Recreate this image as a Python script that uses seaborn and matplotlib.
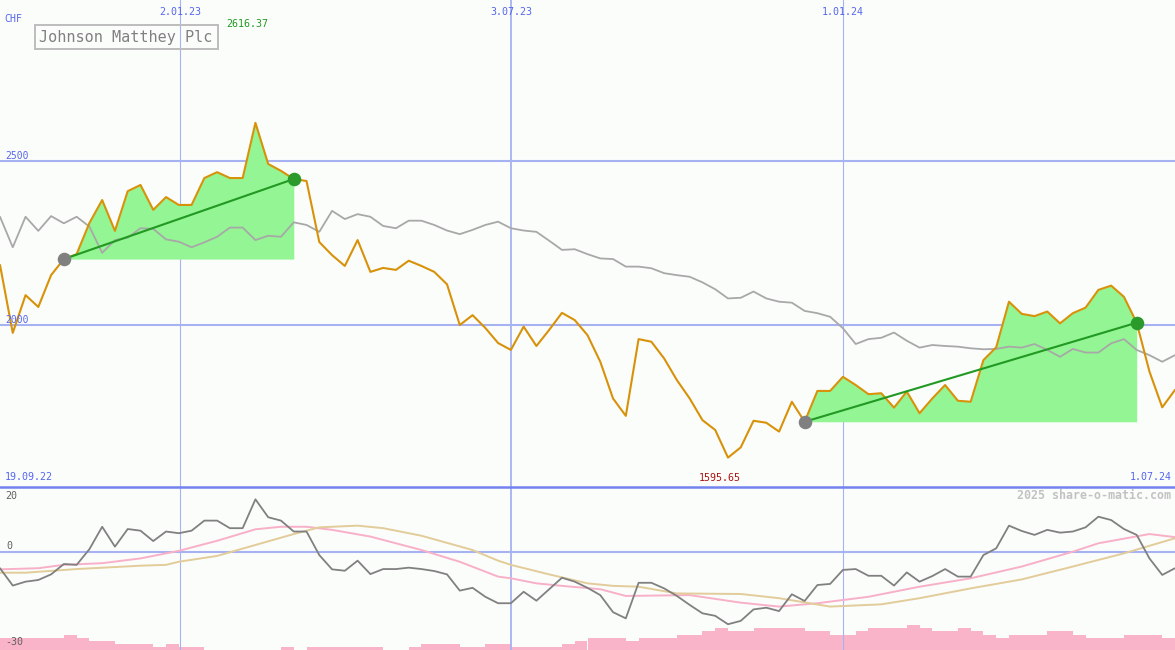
import matplotlib
matplotlib.use("Agg")
import matplotlib.pyplot as plt
import numpy as np
import pandas as pd
import seaborn as sns

# weekly closes (CHF), 19.09.22 .. 1.07.24
price = [
    2183, 1976, 2091, 2055, 2152, 2201, 2216, 2311, 2381, 2287,
    2408, 2427, 2351, 2390, 2366, 2366, 2448, 2466, 2448, 2448,
    2616.37, 2491, 2470, 2445, 2439, 2253, 2213, 2180, 2259, 2162,
    2174, 2168, 2196, 2180, 2162, 2124, 2000, 2030, 1991, 1945,
    1924, 1995, 1936, 1985, 2037, 2015, 1969, 1888, 1776, 1723,
    1957, 1949, 1898, 1832, 1776, 1710, 1680, 1595.65, 1627, 1708,
    1702, 1675, 1766, 1705, 1799, 1799, 1842, 1817, 1789, 1792,
    1748, 1797, 1731, 1776, 1817, 1769, 1766, 1893, 1932, 2071,
    2034, 2027, 2041, 2005, 2036, 2053, 2107, 2120, 2086, 2007,
    1858, 1749, 1802,
]
benchmark = [
    2330, 2237, 2330, 2287, 2332, 2310, 2330, 2300, 2220, 2259,
    2266, 2295, 2293, 2261, 2254, 2237, 2252, 2269, 2297, 2297,
    2259, 2272, 2269, 2313, 2305, 2284, 2348, 2323, 2338, 2330,
    2302, 2295, 2318, 2318, 2305, 2288, 2277, 2290, 2305, 2315,
    2295, 2288, 2284, 2257, 2229, 2231, 2216, 2203, 2201, 2178,
    2178, 2173, 2158, 2152, 2147, 2130, 2109, 2081, 2083, 2102,
    2081, 2071, 2068, 2043, 2036, 2025, 1990, 1942, 1957, 1961,
    1977, 1952, 1931, 1939, 1936, 1934, 1929, 1926, 1927, 1934,
    1931, 1942, 1924, 1903, 1927, 1916, 1916, 1944, 1957, 1924,
    1908, 1888, 1908,
]
momentum = [
    -5.8, -12.0, -10.6, -10.0, -8.0, -4.3, -4.6, 1.0, 9.0, 1.9,
    8.2, 7.6, 3.9, 7.3, 6.7, 7.6, 11.2, 11.2, 8.5, 8.5,
    18.8, 12.4, 11.2, 7.3, 7.3, -1.1, -6.2, -6.7, -3.1, -7.9,
    -6.1, -6.1, -5.6, -6.1, -6.8, -8.0, -13.8, -12.8, -16.0, -18.3,
    -18.3, -14.2, -17.4, -13.3, -9.2, -10.6, -12.8, -15.4, -21.5, -23.7,
    -11.0, -11.0, -13.0, -15.7, -18.9, -21.9, -22.8, -25.8, -24.6, -20.5,
    -19.9, -21.1, -15.1, -17.5, -11.8, -11.4, -6.4, -6.1, -8.5, -8.5,
    -12.0, -7.3, -10.6, -8.6, -6.1, -8.8, -8.8, -1.1, 1.3, 9.4,
    7.5, 6.1, 7.9, 6.9, 7.3, 8.8, 12.6, 11.4, 8.2, 6.1,
    -2.3, -8.2, -5.8,
]
fast_avg_week = [0, 3, 5, 8, 11, 14, 17, 20, 22, 24, 26, 29, 33, 36, 39, 40, 42, 44, 47,
                 49, 54, 58, 61, 64, 68, 72, 76, 80, 84, 86, 90, 92]
fast_avg = [-6.2, -5.8, -4.6, -4.0, -2.3, 0.4, 4.0, 8.1, 9.0, 9.0, 7.9, 5.5, 0.7, -3.5, -8.8,
            -9.4, -11.2, -12.1, -13.3, -15.7, -15.4, -18.1, -19.5, -18.3, -16.0, -12.4, -9.4,
            -5.2, 0.1, 3.1, 6.4, 5.3]
slow_avg_week = [0, 2, 6, 11, 13, 14, 17, 20, 23, 25, 28, 30, 33, 37, 39, 40, 43, 46, 48,
                 50, 53, 58, 61, 65, 69, 72, 76, 80, 84, 88, 92]
slow_avg = [-7.4, -7.4, -6.1, -4.9, -4.6, -3.5, -1.4, 2.5, 6.4, 8.8, 9.4, 8.5, 5.8, 0.7, -3.1,
            -4.6, -8.0, -11.2, -12.1, -12.4, -14.8, -15.0, -16.5, -19.5, -18.7, -16.5, -13.0,
            -9.8, -5.2, -0.5, 4.9]
volume = [
    4, 4, 4, 4, 4, 5, 4, 3, 3, 2, 2, 2, 1, 2, 1, 1, 0, 0, 0, 0,
    0, 0, 1, 0, 1, 1, 1, 1, 1, 1, 0, 0, 1, 2, 2, 2, 1, 1, 2, 2,
    1, 1, 1, 1, 2, 3, 4, 4, 4, 3, 4, 4, 4, 5, 5, 6, 7, 6, 6, 7,
    7, 7, 7, 6, 6, 5, 5, 6, 7, 7, 7, 8, 7, 6, 6, 7, 6, 5, 4, 5,
    5, 5, 6, 6, 5, 4, 4, 4, 5, 5, 5, 4,
]
date_weeks = [14.1, 40, 66]
date_labels = ["2.01.23", "3.07.23", "1.01.24"]
first_date, last_date = "19.09.22", "1.07.24"
trends = [(5, 23), (63, 89)]
price_levels = [2500, 2000]
osc_labels = ["20", "0", "-30"]

week = np.arange(len(price))
df = pd.DataFrame({"week": week, "price": price, "benchmark": benchmark, "momentum": momentum})

bg = "#fbfdfb"
blue = "#5566ee"
grid = "#a6b2f2"
mono = ["DejaVu Sans Mono"]

sns.set_style("white")
plt.rcParams["font.family"] = mono

fig = plt.figure(figsize=(11.75, 6.5), dpi=100, facecolor=bg)
split = 163 / 650
ax = fig.add_axes([0, split, 1, 1 - split], facecolor=bg)
ax_vol = fig.add_axes([0, 0, 1, split], facecolor=bg)
ax_osc = fig.add_axes([0, 0, 1, split], facecolor="none")

# upper panel
for a, b in trends:
    ax.fill_between(week[a:b + 1], price[a:b + 1], price[a], color="#93f593", lw=0, zorder=1)
sns.lineplot(data=df, x="week", y="benchmark", ax=ax, color="#a8a8a8", lw=1.3, zorder=2)
sns.lineplot(data=df, x="week", y="price", ax=ax, color="#d8920a", lw=1.5, zorder=3)
for a, b in trends:
    ax.plot([a, b], [price[a], price[b]], color="#229922", lw=1.5, zorder=4)
    ax.scatter([a], [price[a]], s=95, color="#808080", lw=0, zorder=5)
    ax.scatter([b], [price[b]], s=95, color="#2a9a2a", lw=0, zorder=5)

for lvl in price_levels:
    ax.axhline(lvl, color=grid, lw=1.5, zorder=0)
    ax.text(0.4, lvl, str(lvl), color=blue, fontsize=7, va="bottom", ha="left")
for w, lab in zip(date_weeks, date_labels):
    ax.axvline(w, color=grid, lw=1.3 if w == 40 else 0.8, zorder=0)
    ax.text(w, 0.985, lab, color=blue, fontsize=7.2,
            ha="center", va="top", transform=ax.get_xaxis_transform())
ax.set_xlim(0, len(price) - 1)
ax.set_ylim(1506.1, 2990.85)

imax, imin = int(np.argmax(price)), int(np.argmin(price))
ax.annotate(f"{price[imax]:.2f}", (imax, 1), xycoords=("data", "axes fraction"),
            xytext=(-6, -14), textcoords="offset points", color="#229922",
            fontsize=7.2, ha="center", va="top")
ax.annotate(f"{price[imin]:.2f}", (imin, 0), xycoords=("data", "axes fraction"),
            xytext=(-6, 3), textcoords="offset points", color="#aa1111",
            fontsize=7.2, ha="center", va="bottom")
ax.text(0.004, 0.962, "CHF", transform=ax.transAxes, color=blue, fontsize=7.2, va="center")
ax.text(0.004, 0.014, first_date, transform=ax.transAxes, color=blue, fontsize=7.2)
ax.text(0.997, 0.014, last_date, transform=ax.transAxes, color=blue, fontsize=7.2, ha="right")
ax.text(0.0335, 0.924, "Johnson Matthey Plc", transform=ax.transAxes, color="#808080",
        fontsize=10.9, va="center",
        bbox=dict(boxstyle="square,pad=0.32", fc="none", ec="#bdbdbd", lw=1.4))

# lower panel
ax_vol.bar(week[:-1], volume, width=1.0, align="edge", color="#f9b4ca", lw=0)
ax_vol.set_xlim(0, len(price) - 1)
ax_vol.set_ylim(0, 163 / 3.1)

for w in date_weeks:
    ax_osc.axvline(w, color=grid, lw=1.3 if w == 40 else 0.8, zorder=0)
ax_osc.axhline(0, color=grid, lw=1.5, zorder=0)
sns.lineplot(x=fast_avg_week, y=fast_avg, ax=ax_osc, color="#f8b0c8", lw=1.4)
sns.lineplot(x=slow_avg_week, y=slow_avg, ax=ax_osc, color="#e2cc9a", lw=1.4)
sns.lineplot(data=df, x="week", y="momentum", ax=ax_osc, color="#808080", lw=1.3)
ax_osc.set_xlim(0, len(price) - 1)
ax_osc.set_ylim(-35, 23.2)
ax_osc.text(0.4, 20, osc_labels[0], color="#606060", fontsize=7.2, va="center")
ax_osc.text(0.5, 0.5, osc_labels[1], color="#606060", fontsize=7.2, va="bottom")
ax_osc.text(0.4, -32, osc_labels[2], color="#606060", fontsize=7.2, va="center")
ax_osc.text(0.997, 0.945, "2025 share-o-matic.com", transform=ax_osc.transAxes,
            color="#c2c2c2", fontsize=8.4, ha="right", va="center", fontweight="bold")

for a in (ax, ax_vol, ax_osc):
    a.set_axis_off()
fig.add_artist(plt.Line2D([0, 1], [split, split], color="#7282ee", lw=1.8))

fig.savefig("out.png", dpi=100, facecolor=bg)
